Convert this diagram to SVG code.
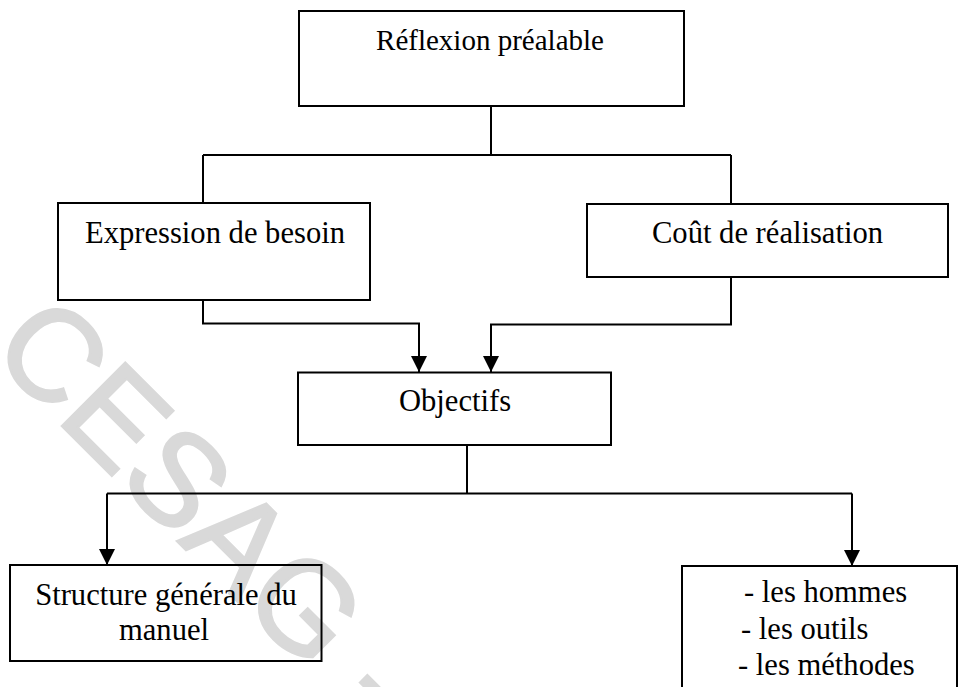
<svg xmlns="http://www.w3.org/2000/svg" width="963" height="687" viewBox="0 0 963 687">
  <style>
    .box { fill: none; stroke: #000; stroke-width: 2; }
    .wire { fill: none; stroke: #000; stroke-width: 2; }
    .lbl { font-family: "Liberation Serif", "Times New Roman", serif; font-size: 30.6px; fill: #000; }
    .mark { font-family: "Liberation Sans", Arial, sans-serif; font-size: 130px; fill: #d9d9d9; stroke: #d9d9d9; stroke-width: 2.5; }
  </style>
  <defs>
    <marker id="arrow" viewBox="0 0 16 16" refX="16" refY="8" markerWidth="16" markerHeight="16" markerUnits="userSpaceOnUse" orient="auto">
      <path d="M0,0 L16,8 L0,16 Z" fill="#000"/>
    </marker>
  </defs>
  <rect width="963" height="687" fill="#fff"/>

  <!-- watermark, runs off the bottom edge -->
  <text class="mark" transform="translate(-12,352) rotate(45)">CESAG -</text>

  <g id="connectors">
    <path class="wire" d="M491,106 V155 M203,155 H731 M203,155 V203 M731,155 V204"/>
    <path class="wire" d="M203,300 V323.5 H419 V372" marker-end="url(#arrow)"/>
    <path class="wire" d="M731,277 V324.5 H491 V372" marker-end="url(#arrow)"/>
    <path class="wire" d="M467,445 V493.5 M107,493.5 H852"/>
    <path class="wire" d="M107,493.5 V565" marker-end="url(#arrow)"/>
    <path class="wire" d="M852,493.5 V566" marker-end="url(#arrow)"/>
  </g>

  <g id="reflexion">
    <rect class="box" x="299" y="11" width="385" height="95"/>
    <text class="lbl" x="490" y="50" text-anchor="middle" style="font-size:29px">Réflexion préalable</text>
  </g>

  <g id="expression">
    <rect class="box" x="58" y="203" width="312" height="97"/>
    <text class="lbl" x="215" y="243" text-anchor="middle">Expression de besoin</text>
  </g>

  <g id="cout">
    <rect class="box" x="587" y="204" width="361" height="73"/>
    <text class="lbl" x="767.5" y="243" text-anchor="middle">Coût de réalisation</text>
  </g>

  <g id="objectifs">
    <rect class="box" x="298" y="372.5" width="313" height="72.5"/>
    <text class="lbl" x="455" y="411" text-anchor="middle">Objectifs</text>
  </g>

  <g id="structure">
    <rect class="box" x="10" y="565" width="311.5" height="96"/>
    <text class="lbl" x="166" y="605" text-anchor="middle">Structure générale du</text>
    <text class="lbl" x="164" y="640" text-anchor="middle">manuel</text>
  </g>

  <g id="ressources">
    <rect class="box" x="682" y="566" width="275" height="130"/>
    <text class="lbl" x="744" y="602">- les hommes</text>
    <text class="lbl" x="741" y="639">- les outils</text>
    <text class="lbl" x="738" y="675">- les méthodes</text>
  </g>
</svg>
